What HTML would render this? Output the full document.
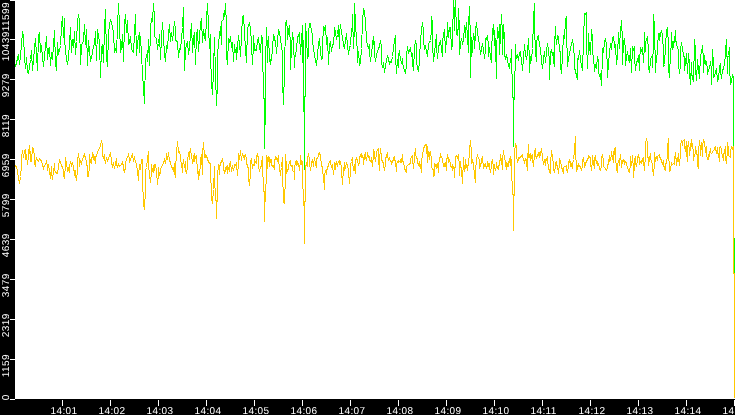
<!DOCTYPE html>
<html><head><meta charset="utf-8"><title>Chart</title><style>
html,body{margin:0;padding:0;background:#fff;overflow:hidden;}
body{width:735px;height:415px;overflow:hidden;position:relative;font-family:"Liberation Sans",sans-serif;font-size:10px;font-weight:normal;color:#fff;text-rendering:geometricPrecision;}
#l{position:absolute;left:0;top:0;width:15px;height:415px;background:#000;}
#b{position:absolute;left:0;top:399px;width:735px;height:16px;background:#000;}
.yt{position:absolute;left:10px;width:5px;height:1px;background:#fff;}
.xt{position:absolute;top:400px;width:1px;height:6px;background:#fff;}
.xl{position:absolute;top:406px;text-align:left;padding-left:0.4px;padding-top:0px;letter-spacing:0.44px;will-change:transform;line-height:12px;white-space:nowrap;}
.yl{position:absolute;left:0;width:0;height:0;}
.yl span{position:absolute;left:0;top:0;display:block;padding-left:0.75px;padding-top:0px;white-space:nowrap;letter-spacing:0.44px;will-change:transform;line-height:12px;transform-origin:0 0;transform:rotate(-90deg);}
svg{position:absolute;left:0;top:0;}

</style></head><body>
<svg width="735" height="415" viewBox="0 0 735 415">
<polyline points="14.5,60.5 15.5,66.5 18.5,54.5 19.5,64.5 21.5,45.5 22.5,31.5 23.5,36.5 24.5,57.5 25.5,68.5 26.5,57.5 27.5,72.5 28.5,73.5 30.5,59.5 31.5,50.5 32.5,70.5 33.5,60.5 34.5,47.5 35.5,38.5 37.5,70.5 38.5,35.5 39.5,33.5 40.5,52.5 41.5,45.5 42.5,57.5 43.5,66.5 44.5,55.5 45.5,47.5 46.5,36.5 47.5,59.5 48.5,48.5 49.5,47.5 50.5,65.5 51.5,52.5 52.5,59.5 53.5,45.5 54.5,30.5 55.5,62.5 56.5,70.5 57.5,42.5 58.5,54.5 60.5,45.5 61.5,26.5 62.5,16.5 63.5,37.5 64.5,18.5 64.5,40.5 66.5,59.5 67.5,64.5 68.5,57.5 69.5,42.5 70.5,27.5 71.5,52.5 72.5,39.5 73.5,47.5 74.5,31.5 75.5,54.5 76.5,41.5 77.5,21.5 78.5,14.5 79.5,21.5 80.5,64.5 81.5,45.5 83.5,40.5 84.5,24.5 85.5,44.5 86.5,29.5 87.5,65.5 88.5,40.5 89.5,50.5 90.5,61.5 92.5,52.5 93.5,45.5 94.5,44.5 95.5,31.5 96.5,60.5 97.5,29.5 98.5,35.5 99.5,42.5 100.5,77.5 101.5,47.5 102.5,44.5 103.5,62.5 104.5,29.5 105.5,9.5 106.5,57.5 107.5,66.5 108.5,34.5 109.5,24.5 110.5,19.5 112.5,26.5 113.5,32.5 114.5,52.5 115.5,49.5 116.5,52.5 117.5,27.5 118.5,3.5 119.5,25.5 120.5,52.5 121.5,47.5 122.5,34.5 123.5,61.5 124.5,23.5 125.5,14.5 126.5,32.5 127.5,20.5 128.5,44.5 129.5,42.5 130.5,36.5 131.5,49.5 133.5,52.5 134.5,33.5 135.5,14.5 136.5,55.5 137.5,42.5 139.5,32.5 139.5,52.5 140.5,36.5 142.5,73.5 144.5,103.5 145.5,59.5 147.5,52.5 147.5,61.5 148.5,39.5 149.5,65.5 150.5,27.5 151.5,18.5 152.5,21.5 153.5,3.5 154.5,18.5 154.5,36.5 156.5,38.5 157.5,49.5 158.5,43.5 159.5,34.5 160.5,59.5 161.5,37.5 162.5,22.5 163.5,37.5 164.5,54.5 165.5,61.5 166.5,45.5 167.5,48.5 168.5,34.5 169.5,24.5 170.5,41.5 171.5,32.5 172.5,40.5 173.5,31.5 174.5,21.5 175.5,29.5 175.5,40.5 177.5,41.5 178.5,57.5 179.5,48.5 180.5,49.5 182.5,27.5 183.5,7.5 184.5,70.5 185.5,49.5 186.5,44.5 187.5,41.5 188.5,54.5 189.5,47.5 190.5,35.5 191.5,23.5 192.5,52.5 193.5,38.5 194.5,32.5 195.5,64.5 196.5,34.5 197.5,29.5 198.5,51.5 199.5,37.5 200.5,23.5 201.5,18.5 202.5,42.5 203.5,29.5 204.5,36.5 205.5,40.5 206.5,18.5 207.5,3.5 208.5,26.5 209.5,48.5 210.5,34.5 210.5,54.5 211.5,83.5 212.5,94.5 213.5,70.5 214.5,37.5 215.5,74.5 216.5,105.5 217.5,82.5 217.5,54.5 218.5,43.5 220.5,26.5 221.5,44.5 221.5,21.5 223.5,19.5 223.5,13.5 224.5,16.5 225.5,3.5 226.5,26.5 226.5,55.5 227.5,64.5 228.5,38.5 229.5,41.5 230.5,36.5 231.5,47.5 232.5,42.5 233.5,61.5 234.5,44.5 235.5,52.5 236.5,47.5 236.5,59.5 237.5,46.5 238.5,35.5 239.5,43.5 240.5,56.5 241.5,36.5 242.5,16.5 243.5,15.5 244.5,32.5 245.5,49.5 246.5,62.5 247.5,28.5 248.5,25.5 249.5,23.5 250.5,27.5 251.5,44.5 252.5,64.5 253.5,44.5 253.5,35.5 254.5,50.5 254.5,50.5 256.5,49.5 256.5,50.5 257.5,40.5 258.5,38.5 259.5,47.5 260.5,52.5 261.5,36.5 262.5,38.5 262.5,44.5 263.5,98.5 264.5,98.5 264.5,148.5 264.5,124.5 265.5,124.5 265.5,65.5 266.5,27.5 267.5,62.5 267.5,44.5 268.5,36.5 269.5,59.5 270.5,64.5 271.5,54.5 271.5,60.5 272.5,47.5 273.5,34.5 274.5,37.5 275.5,44.5 275.5,40.5 276.5,53.5 277.5,41.5 278.5,29.5 279.5,32.5 280.5,39.5 281.5,45.5 282.5,54.5 282.5,81.5 283.5,104.5 284.5,70.5 285.5,24.5 286.5,20.5 287.5,31.5 287.5,39.5 288.5,31.5 289.5,25.5 290.5,47.5 290.5,69.5 291.5,47.5 292.5,32.5 293.5,41.5 294.5,67.5 294.5,57.5 295.5,55.5 296.5,48.5 297.5,37.5 298.5,35.5 299.5,32.5 300.5,54.5 301.5,40.5 302.5,25.5 302.5,62.5 303.5,40.5 303.5,111.5 304.5,111.5 304.5,169.5 304.5,96.5 305.5,96.5 305.5,23.5 306.5,37.5 307.5,57.5 308.5,55.5 308.5,32.5 309.5,23.5 310.5,23.5 311.5,31.5 312.5,34.5 312.5,42.5 313.5,47.5 314.5,55.5 315.5,59.5 316.5,65.5 317.5,54.5 318.5,44.5 319.5,38.5 320.5,52.5 321.5,59.5 322.5,58.5 322.5,44.5 323.5,27.5 324.5,29.5 325.5,25.5 326.5,44.5 327.5,37.5 328.5,64.5 329.5,44.5 330.5,42.5 331.5,51.5 332.5,45.5 333.5,43.5 334.5,31.5 334.5,27.5 335.5,32.5 336.5,39.5 337.5,34.5 338.5,25.5 339.5,48.5 339.5,34.5 340.5,24.5 341.5,33.5 342.5,36.5 343.5,45.5 344.5,48.5 345.5,40.5 346.5,33.5 347.5,45.5 348.5,54.5 349.5,47.5 350.5,45.5 351.5,29.5 352.5,26.5 352.5,14.5 353.5,48.5 354.5,26.5 354.5,3.5 355.5,23.5 356.5,39.5 357.5,52.5 357.5,62.5 358.5,51.5 359.5,64.5 360.5,62.5 361.5,48.5 362.5,21.5 363.5,9.5 364.5,11.5 365.5,21.5 366.5,39.5 367.5,45.5 368.5,47.5 369.5,44.5 369.5,52.5 370.5,61.5 371.5,53.5 372.5,44.5 373.5,36.5 374.5,52.5 374.5,40.5 374.5,54.5 375.5,61.5 376.5,54.5 378.5,48.5 379.5,46.5 380.5,40.5 381.5,47.5 381.5,62.5 382.5,67.5 383.5,62.5 384.5,72.5 385.5,65.5 386.5,60.5 387.5,55.5 388.5,59.5 389.5,63.5 390.5,61.5 391.5,62.5 392.5,56.5 393.5,48.5 394.5,40.5 395.5,35.5 395.5,55.5 396.5,73.5 397.5,59.5 398.5,67.5 398.5,55.5 399.5,50.5 400.5,60.5 400.5,57.5 401.5,63.5 402.5,58.5 402.5,62.5 403.5,67.5 404.5,70.5 405.5,73.5 406.5,65.5 406.5,56.5 407.5,46.5 408.5,52.5 409.5,50.5 410.5,47.5 411.5,55.5 412.5,53.5 412.5,62.5 413.5,70.5 414.5,47.5 415.5,40.5 416.5,46.5 416.5,60.5 417.5,68.5 418.5,70.5 419.5,62.5 419.5,57.5 420.5,40.5 421.5,29.5 422.5,22.5 423.5,30.5 423.5,41.5 424.5,48.5 425.5,46.5 426.5,50.5 427.5,56.5 428.5,43.5 429.5,42.5 430.5,40.5 431.5,30.5 431.5,16.5 432.5,23.5 432.5,44.5 433.5,61.5 434.5,52.5 435.5,43.5 436.5,34.5 436.5,47.5 437.5,58.5 438.5,47.5 439.5,43.5 440.5,41.5 441.5,48.5 442.5,56.5 442.5,40.5 443.5,35.5 444.5,29.5 445.5,52.5 446.5,37.5 447.5,35.5 447.5,22.5 448.5,37.5 449.5,27.5 450.5,27.5 451.5,49.5 452.5,44.5 452.5,21.5 453.5,16.5 453.5,-1.5 454.5,30.5 454.5,15.5 455.5,-1.5 456.5,34.5 456.5,21.5 457.5,35.5 458.5,24.5 458.5,8.5 459.5,31.5 459.5,54.5 460.5,44.5 461.5,38.5 462.5,43.5 463.5,40.5 464.5,25.5 465.5,29.5 465.5,37.5 466.5,22.5 467.5,37.5 468.5,52.5 468.5,25.5 469.5,6.5 470.5,42.5 470.5,77.5 471.5,37.5 472.5,52.5 472.5,47.5 473.5,33.5 474.5,38.5 474.5,48.5 475.5,34.5 475.5,29.5 476.5,22.5 477.5,32.5 478.5,39.5 479.5,44.5 480.5,54.5 481.5,49.5 482.5,43.5 483.5,49.5 484.5,58.5 485.5,49.5 485.5,38.5 486.5,39.5 487.5,35.5 488.5,45.5 488.5,56.5 489.5,47.5 490.5,57.5 491.5,62.5 491.5,50.5 492.5,31.5 493.5,24.5 494.5,45.5 494.5,30.5 495.5,45.5 496.5,78.5 496.5,52.5 497.5,27.5 498.5,37.5 499.5,24.5 499.5,54.5 500.5,34.5 501.5,14.5 502.5,34.5 502.5,54.5 503.5,24.5 504.5,39.5 504.5,54.5 505.5,58.5 506.5,55.5 507.5,59.5 508.5,65.5 509.5,68.5 510.5,58.5 511.5,58.5 511.5,49.5 512.5,97.5 513.5,97.5 513.5,146.5 513.5,99.5 514.5,99.5 515.5,44.5 515.5,51.5 516.5,58.5 517.5,54.5 518.5,60.5 519.5,52.5 520.5,51.5 521.5,61.5 522.5,68.5 522.5,70.5 523.5,57.5 524.5,44.5 525.5,54.5 526.5,59.5 527.5,52.5 527.5,51.5 528.5,38.5 529.5,60.5 529.5,72.5 530.5,56.5 531.5,60.5 532.5,48.5 533.5,20.5 533.5,19.5 534.5,3.5 534.5,27.5 535.5,52.5 536.5,61.5 536.5,43.5 537.5,36.5 538.5,35.5 539.5,45.5 540.5,48.5 541.5,61.5 542.5,68.5 543.5,59.5 544.5,51.5 545.5,62.5 546.5,52.5 546.5,50.5 547.5,43.5 548.5,49.5 549.5,62.5 549.5,79.5 550.5,52.5 551.5,50.5 552.5,54.5 553.5,52.5 553.5,61.5 554.5,66.5 554.5,45.5 555.5,26.5 555.5,33.5 556.5,44.5 557.5,35.5 558.5,36.5 559.5,50.5 560.5,52.5 560.5,65.5 561.5,73.5 562.5,55.5 562.5,54.5 563.5,35.5 564.5,38.5 565.5,19.5 566.5,16.5 566.5,41.5 567.5,54.5 567.5,66.5 568.5,57.5 569.5,54.5 570.5,47.5 571.5,44.5 572.5,39.5 573.5,46.5 574.5,59.5 574.5,67.5 575.5,71.5 577.5,79.5 577.5,58.5 578.5,59.5 579.5,50.5 580.5,59.5 581.5,65.5 582.5,70.5 583.5,40.5 583.5,39.5 584.5,13.5 585.5,14.5 586.5,12.5 586.5,40.5 587.5,68.5 588.5,42.5 588.5,33.5 589.5,50.5 590.5,42.5 590.5,54.5 591.5,29.5 592.5,38.5 592.5,54.5 593.5,55.5 594.5,71.5 595.5,65.5 596.5,62.5 596.5,68.5 597.5,56.5 598.5,62.5 598.5,70.5 599.5,76.5 600.5,73.5 601.5,85.5 602.5,54.5 602.5,48.5 603.5,52.5 604.5,41.5 605.5,39.5 606.5,44.5 606.5,54.5 607.5,62.5 607.5,77.5 608.5,63.5 609.5,52.5 610.5,43.5 611.5,49.5 612.5,37.5 613.5,36.5 614.5,44.5 614.5,40.5 614.5,47.5 615.5,45.5 616.5,64.5 617.5,55.5 618.5,32.5 619.5,48.5 619.5,44.5 620.5,31.5 621.5,20.5 622.5,41.5 622.5,64.5 623.5,41.5 624.5,39.5 625.5,50.5 625.5,65.5 626.5,56.5 627.5,51.5 628.5,58.5 629.5,62.5 630.5,48.5 631.5,72.5 632.5,46.5 633.5,49.5 634.5,46.5 634.5,57.5 635.5,70.5 636.5,62.5 637.5,60.5 638.5,55.5 639.5,70.5 639.5,60.5 640.5,48.5 641.5,50.5 642.5,47.5 643.5,62.5 644.5,44.5 644.5,32.5 645.5,51.5 645.5,42.5 646.5,39.5 647.5,37.5 648.5,50.5 648.5,67.5 649.5,72.5 650.5,59.5 651.5,56.5 652.5,55.5 652.5,67.5 653.5,41.5 653.5,14.5 654.5,26.5 655.5,72.5 655.5,54.5 656.5,62.5 657.5,47.5 658.5,33.5 659.5,33.5 659.5,40.5 660.5,34.5 661.5,30.5 662.5,35.5 663.5,52.5 663.5,66.5 664.5,64.5 665.5,45.5 666.5,30.5 667.5,28.5 668.5,45.5 668.5,67.5 669.5,77.5 670.5,51.5 671.5,45.5 671.5,32.5 672.5,49.5 673.5,45.5 674.5,36.5 674.5,42.5 675.5,30.5 675.5,40.5 676.5,42.5 677.5,48.5 678.5,49.5 678.5,64.5 679.5,73.5 680.5,64.5 680.5,50.5 681.5,42.5 682.5,48.5 683.5,55.5 684.5,57.5 684.5,70.5 685.5,62.5 686.5,53.5 687.5,73.5 688.5,53.5 689.5,64.5 689.5,72.5 690.5,84.5 691.5,62.5 691.5,73.5 693.5,81.5 693.5,62.5 694.5,59.5 694.5,39.5 695.5,49.5 695.5,69.5 696.5,80.5 697.5,60.5 697.5,59.5 698.5,69.5 699.5,78.5 700.5,54.5 701.5,53.5 702.5,45.5 703.5,59.5 703.5,72.5 704.5,55.5 705.5,64.5 706.5,61.5 707.5,70.5 707.5,74.5 708.5,69.5 709.5,68.5 710.5,61.5 711.5,69.5 711.5,84.5 712.5,49.5 713.5,64.5 713.5,77.5 714.5,76.5 715.5,71.5 716.5,68.5 717.5,81.5 718.5,78.5 719.5,67.5 720.5,63.5 720.5,70.5 721.5,78.5 722.5,69.5 723.5,69.5 724.5,62.5 725.5,55.5 725.5,50.5 726.5,39.5 727.5,73.5 727.5,57.5 728.5,55.5 729.5,47.5 729.5,67.5 730.5,84.5 731.5,80.5 732.5,75.5 733.5,77.5 733.5,238.5 734.5,238.5 734.5,397.5" fill="none" stroke="#00ff00" stroke-width="1" stroke-linejoin="miter" shape-rendering="crispEdges"/>
<polyline points="14.5,165.5 16.5,166.5 17.5,170.5 18.5,178.5 19.5,183.5 20.5,176.5 21.5,166.5 21.5,158.5 22.5,150.5 23.5,157.5 24.5,151.5 25.5,149.5 25.5,159.5 26.5,154.5 27.5,164.5 28.5,156.5 28.5,152.5 29.5,145.5 30.5,161.5 30.5,151.5 31.5,161.5 32.5,147.5 32.5,153.5 33.5,148.5 34.5,156.5 34.5,162.5 35.5,166.5 35.5,161.5 36.5,158.5 37.5,160.5 38.5,161.5 39.5,158.5 40.5,159.5 41.5,161.5 42.5,164.5 43.5,168.5 44.5,165.5 45.5,164.5 46.5,161.5 47.5,166.5 47.5,170.5 48.5,164.5 49.5,171.5 50.5,178.5 51.5,166.5 51.5,172.5 52.5,179.5 53.5,170.5 53.5,172.5 54.5,163.5 54.5,170.5 55.5,171.5 56.5,173.5 57.5,173.5 58.5,166.5 59.5,160.5 60.5,162.5 61.5,165.5 62.5,167.5 63.5,170.5 63.5,175.5 64.5,177.5 65.5,165.5 65.5,157.5 66.5,163.5 67.5,170.5 67.5,171.5 68.5,168.5 69.5,172.5 69.5,167.5 70.5,161.5 71.5,165.5 71.5,166.5 72.5,162.5 73.5,167.5 74.5,173.5 74.5,175.5 75.5,170.5 75.5,175.5 76.5,180.5 77.5,170.5 77.5,160.5 78.5,153.5 79.5,162.5 79.5,166.5 80.5,160.5 81.5,163.5 82.5,159.5 83.5,156.5 84.5,154.5 85.5,159.5 85.5,156.5 86.5,163.5 87.5,167.5 87.5,176.5 88.5,176.5 89.5,165.5 89.5,154.5 90.5,162.5 91.5,157.5 91.5,163.5 92.5,152.5 93.5,156.5 93.5,159.5 94.5,157.5 95.5,163.5 95.5,157.5 96.5,155.5 97.5,152.5 98.5,149.5 99.5,148.5 100.5,145.5 101.5,140.5 102.5,145.5 102.5,154.5 103.5,158.5 104.5,154.5 104.5,159.5 105.5,162.5 106.5,158.5 107.5,160.5 108.5,158.5 109.5,155.5 110.5,153.5 111.5,159.5 111.5,162.5 112.5,166.5 113.5,163.5 114.5,168.5 115.5,163.5 116.5,158.5 116.5,164.5 117.5,166.5 118.5,164.5 119.5,166.5 120.5,165.5 121.5,164.5 122.5,162.5 123.5,166.5 123.5,169.5 124.5,171.5 125.5,167.5 125.5,163.5 126.5,158.5 127.5,157.5 128.5,154.5 129.5,159.5 129.5,162.5 130.5,159.5 131.5,156.5 131.5,157.5 132.5,153.5 133.5,161.5 134.5,156.5 134.5,157.5 134.5,159.5 135.5,160.5 136.5,165.5 137.5,170.5 138.5,180.5 138.5,175.5 139.5,164.5 140.5,169.5 141.5,159.5 142.5,159.5 142.5,179.5 143.5,203.5 144.5,209.5 145.5,188.5 145.5,170.5 146.5,167.5 147.5,159.5 148.5,151.5 148.5,164.5 149.5,174.5 150.5,182.5 151.5,172.5 151.5,164.5 152.5,171.5 153.5,165.5 153.5,172.5 154.5,168.5 154.5,164.5 155.5,164.5 156.5,171.5 157.5,184.5 158.5,174.5 158.5,167.5 159.5,175.5 160.5,172.5 160.5,169.5 161.5,166.5 162.5,165.5 163.5,162.5 164.5,159.5 165.5,163.5 166.5,156.5 166.5,153.5 167.5,159.5 168.5,152.5 168.5,153.5 169.5,159.5 170.5,163.5 171.5,166.5 172.5,168.5 173.5,170.5 174.5,163.5 174.5,171.5 175.5,177.5 175.5,169.5 176.5,153.5 177.5,141.5 178.5,152.5 178.5,148.5 179.5,153.5 180.5,154.5 180.5,159.5 181.5,163.5 182.5,172.5 182.5,166.5 183.5,159.5 184.5,167.5 185.5,161.5 185.5,170.5 186.5,173.5 187.5,166.5 187.5,161.5 188.5,152.5 189.5,159.5 189.5,153.5 190.5,148.5 191.5,157.5 191.5,153.5 192.5,163.5 193.5,159.5 193.5,157.5 194.5,153.5 194.5,161.5 195.5,156.5 196.5,155.5 196.5,159.5 197.5,167.5 198.5,179.5 198.5,171.5 199.5,175.5 200.5,162.5 200.5,159.5 201.5,154.5 202.5,174.5 202.5,154.5 203.5,142.5 204.5,157.5 204.5,150.5 205.5,157.5 205.5,156.5 206.5,155.5 207.5,159.5 208.5,161.5 209.5,163.5 210.5,163.5 210.5,167.5 211.5,197.5 212.5,203.5 213.5,189.5 214.5,166.5 214.5,175.5 215.5,200.5 216.5,200.5 216.5,218.5 216.5,201.5 217.5,201.5 217.5,175.5 218.5,164.5 219.5,174.5 219.5,167.5 220.5,163.5 221.5,161.5 222.5,159.5 223.5,164.5 223.5,167.5 224.5,173.5 225.5,167.5 225.5,171.5 226.5,166.5 227.5,173.5 227.5,165.5 228.5,168.5 229.5,171.5 229.5,164.5 230.5,162.5 231.5,171.5 232.5,166.5 233.5,169.5 234.5,166.5 234.5,164.5 235.5,165.5 236.5,163.5 237.5,175.5 238.5,162.5 238.5,153.5 239.5,159.5 240.5,150.5 241.5,160.5 241.5,157.5 242.5,154.5 243.5,156.5 244.5,159.5 244.5,155.5 245.5,154.5 246.5,159.5 246.5,162.5 247.5,166.5 248.5,168.5 248.5,177.5 249.5,185.5 250.5,173.5 250.5,161.5 251.5,159.5 252.5,168.5 252.5,166.5 253.5,164.5 254.5,163.5 254.5,165.5 254.5,159.5 255.5,162.5 256.5,163.5 256.5,156.5 257.5,153.5 258.5,159.5 258.5,166.5 259.5,171.5 260.5,166.5 260.5,168.5 261.5,164.5 262.5,156.5 262.5,162.5 263.5,191.5 264.5,191.5 264.5,221.5 264.5,201.5 265.5,201.5 266.5,167.5 266.5,155.5 267.5,168.5 267.5,157.5 268.5,156.5 269.5,166.5 269.5,157.5 270.5,161.5 271.5,159.5 271.5,164.5 272.5,166.5 273.5,165.5 273.5,166.5 274.5,169.5 274.5,161.5 275.5,157.5 276.5,159.5 276.5,157.5 277.5,160.5 278.5,155.5 278.5,159.5 279.5,167.5 280.5,175.5 280.5,172.5 281.5,167.5 282.5,157.5 282.5,172.5 283.5,201.5 284.5,203.5 285.5,175.5 285.5,154.5 286.5,167.5 286.5,173.5 287.5,170.5 288.5,168.5 288.5,165.5 289.5,162.5 290.5,160.5 290.5,164.5 291.5,166.5 292.5,165.5 292.5,170.5 293.5,171.5 294.5,172.5 294.5,179.5 294.5,167.5 295.5,162.5 296.5,160.5 296.5,165.5 297.5,162.5 298.5,166.5 298.5,163.5 299.5,170.5 300.5,159.5 300.5,155.5 301.5,163.5 302.5,161.5 302.5,170.5 303.5,205.5 304.5,205.5 304.5,243.5 304.5,201.5 305.5,201.5 305.5,167.5 306.5,163.5 307.5,166.5 307.5,157.5 308.5,154.5 309.5,159.5 309.5,162.5 310.5,170.5 311.5,164.5 311.5,162.5 312.5,159.5 313.5,166.5 313.5,162.5 314.5,159.5 314.5,157.5 315.5,163.5 316.5,167.5 316.5,159.5 317.5,157.5 318.5,156.5 318.5,153.5 319.5,152.5 320.5,156.5 320.5,159.5 321.5,162.5 322.5,170.5 322.5,171.5 323.5,175.5 324.5,189.5 324.5,174.5 325.5,171.5 326.5,174.5 326.5,171.5 327.5,167.5 328.5,165.5 328.5,163.5 329.5,162.5 330.5,160.5 330.5,163.5 331.5,166.5 332.5,168.5 332.5,164.5 333.5,174.5 334.5,166.5 334.5,162.5 335.5,169.5 335.5,164.5 336.5,162.5 337.5,166.5 337.5,163.5 338.5,162.5 339.5,160.5 339.5,164.5 340.5,162.5 341.5,167.5 341.5,171.5 342.5,184.5 343.5,168.5 343.5,172.5 344.5,162.5 344.5,170.5 345.5,166.5 346.5,163.5 346.5,162.5 347.5,165.5 348.5,170.5 348.5,172.5 349.5,183.5 350.5,170.5 350.5,164.5 351.5,161.5 352.5,157.5 352.5,161.5 353.5,170.5 354.5,164.5 354.5,167.5 355.5,173.5 355.5,161.5 356.5,157.5 357.5,161.5 357.5,159.5 358.5,165.5 359.5,162.5 359.5,157.5 360.5,155.5 361.5,157.5 361.5,153.5 362.5,157.5 363.5,157.5 363.5,164.5 364.5,156.5 365.5,152.5 365.5,157.5 366.5,159.5 367.5,154.5 367.5,152.5 368.5,157.5 369.5,156.5 369.5,159.5 370.5,161.5 371.5,162.5 371.5,157.5 372.5,166.5 373.5,154.5 373.5,149.5 374.5,153.5 374.5,156.5 374.5,156.5 375.5,161.5 376.5,153.5 376.5,151.5 377.5,150.5 378.5,148.5 378.5,159.5 379.5,170.5 379.5,159.5 380.5,148.5 381.5,157.5 381.5,159.5 382.5,161.5 383.5,163.5 383.5,165.5 384.5,170.5 385.5,164.5 385.5,159.5 386.5,155.5 387.5,152.5 387.5,156.5 388.5,159.5 389.5,157.5 389.5,159.5 390.5,160.5 391.5,162.5 391.5,164.5 392.5,161.5 393.5,159.5 393.5,157.5 394.5,156.5 394.5,159.5 395.5,161.5 396.5,171.5 396.5,164.5 397.5,161.5 398.5,160.5 398.5,162.5 399.5,161.5 400.5,162.5 400.5,159.5 401.5,162.5 402.5,154.5 402.5,159.5 403.5,163.5 404.5,166.5 404.5,168.5 405.5,170.5 406.5,172.5 406.5,166.5 407.5,165.5 408.5,164.5 408.5,164.5 409.5,164.5 410.5,162.5 410.5,159.5 411.5,156.5 412.5,155.5 412.5,159.5 413.5,168.5 414.5,157.5 414.5,155.5 415.5,148.5 415.5,154.5 416.5,157.5 417.5,159.5 417.5,162.5 418.5,164.5 419.5,166.5 419.5,161.5 420.5,165.5 421.5,172.5 421.5,163.5 422.5,152.5 423.5,151.5 423.5,148.5 424.5,146.5 425.5,144.5 425.5,144.5 426.5,144.5 427.5,162.5 427.5,146.5 428.5,154.5 429.5,159.5 429.5,152.5 430.5,151.5 431.5,159.5 431.5,167.5 432.5,168.5 433.5,170.5 433.5,176.5 434.5,174.5 434.5,163.5 435.5,164.5 436.5,168.5 436.5,164.5 437.5,163.5 438.5,172.5 438.5,163.5 439.5,160.5 440.5,153.5 440.5,157.5 441.5,156.5 442.5,159.5 442.5,160.5 443.5,165.5 444.5,163.5 444.5,166.5 445.5,162.5 446.5,170.5 446.5,161.5 447.5,154.5 448.5,162.5 448.5,157.5 449.5,161.5 450.5,162.5 450.5,166.5 451.5,167.5 452.5,164.5 452.5,170.5 453.5,166.5 454.5,167.5 454.5,177.5 455.5,159.5 455.5,156.5 456.5,155.5 457.5,158.5 457.5,157.5 458.5,154.5 459.5,167.5 459.5,175.5 460.5,161.5 461.5,171.5 461.5,170.5 462.5,183.5 463.5,157.5 463.5,166.5 464.5,171.5 465.5,159.5 465.5,168.5 466.5,164.5 467.5,170.5 467.5,166.5 468.5,164.5 469.5,151.5 469.5,150.5 470.5,140.5 471.5,153.5 471.5,163.5 472.5,160.5 473.5,164.5 473.5,168.5 474.5,171.5 474.5,175.5 475.5,182.5 475.5,170.5 476.5,159.5 477.5,154.5 477.5,156.5 478.5,157.5 479.5,160.5 479.5,168.5 480.5,164.5 481.5,162.5 481.5,159.5 482.5,157.5 483.5,168.5 483.5,163.5 484.5,165.5 485.5,163.5 485.5,164.5 486.5,168.5 487.5,164.5 487.5,161.5 488.5,165.5 489.5,163.5 489.5,168.5 490.5,171.5 491.5,166.5 491.5,162.5 492.5,159.5 493.5,167.5 493.5,174.5 494.5,164.5 494.5,163.5 494.5,166.5 495.5,169.5 496.5,166.5 496.5,162.5 497.5,168.5 498.5,165.5 498.5,169.5 499.5,162.5 500.5,158.5 500.5,154.5 501.5,160.5 502.5,169.5 502.5,159.5 503.5,150.5 504.5,159.5 504.5,156.5 505.5,163.5 506.5,169.5 506.5,162.5 507.5,165.5 508.5,161.5 508.5,166.5 509.5,159.5 510.5,156.5 510.5,165.5 511.5,159.5 511.5,166.5 512.5,194.5 513.5,194.5 513.5,230.5 513.5,195.5 514.5,195.5 514.5,152.5 515.5,143.5 516.5,146.5 516.5,154.5 517.5,162.5 518.5,159.5 518.5,157.5 519.5,158.5 520.5,156.5 520.5,157.5 521.5,155.5 522.5,154.5 522.5,156.5 523.5,159.5 524.5,161.5 524.5,163.5 525.5,158.5 526.5,159.5 526.5,162.5 527.5,170.5 527.5,161.5 528.5,144.5 528.5,157.5 529.5,154.5 530.5,160.5 530.5,153.5 531.5,157.5 532.5,154.5 532.5,159.5 533.5,166.5 534.5,154.5 534.5,152.5 535.5,148.5 535.5,154.5 536.5,158.5 537.5,154.5 537.5,156.5 538.5,153.5 539.5,157.5 539.5,152.5 540.5,154.5 541.5,148.5 542.5,156.5 542.5,157.5 543.5,163.5 544.5,161.5 544.5,159.5 545.5,165.5 545.5,159.5 546.5,160.5 547.5,156.5 547.5,160.5 548.5,167.5 549.5,171.5 550.5,173.5 550.5,162.5 551.5,151.5 551.5,150.5 552.5,156.5 553.5,164.5 553.5,169.5 554.5,172.5 555.5,165.5 555.5,162.5 556.5,161.5 557.5,169.5 557.5,165.5 558.5,173.5 559.5,162.5 559.5,158.5 560.5,162.5 561.5,165.5 561.5,166.5 562.5,170.5 563.5,173.5 563.5,167.5 564.5,166.5 564.5,166.5 565.5,166.5 566.5,165.5 566.5,169.5 567.5,172.5 568.5,166.5 568.5,162.5 569.5,159.5 570.5,166.5 570.5,161.5 571.5,165.5 572.5,168.5 572.5,164.5 573.5,159.5 574.5,150.5 574.5,149.5 575.5,136.5 575.5,154.5 576.5,165.5 576.5,171.5 577.5,167.5 578.5,163.5 578.5,166.5 579.5,165.5 580.5,167.5 580.5,166.5 581.5,170.5 582.5,165.5 582.5,161.5 583.5,157.5 584.5,165.5 584.5,167.5 585.5,163.5 586.5,160.5 586.5,162.5 587.5,159.5 588.5,157.5 588.5,155.5 589.5,157.5 590.5,157.5 590.5,163.5 591.5,170.5 592.5,159.5 592.5,155.5 593.5,163.5 594.5,168.5 594.5,159.5 595.5,155.5 595.5,159.5 596.5,161.5 597.5,165.5 597.5,161.5 598.5,165.5 599.5,166.5 599.5,169.5 600.5,170.5 601.5,165.5 601.5,158.5 602.5,154.5 603.5,161.5 603.5,166.5 604.5,167.5 605.5,168.5 605.5,169.5 606.5,170.5 607.5,167.5 607.5,166.5 608.5,162.5 609.5,155.5 609.5,161.5 610.5,159.5 611.5,154.5 611.5,151.5 612.5,157.5 613.5,162.5 613.5,154.5 614.5,148.5 614.5,154.5 614.5,154.5 615.5,147.5 615.5,157.5 616.5,168.5 617.5,172.5 617.5,166.5 618.5,160.5 619.5,165.5 619.5,161.5 620.5,154.5 621.5,165.5 621.5,167.5 622.5,160.5 622.5,163.5 623.5,159.5 624.5,164.5 624.5,160.5 625.5,161.5 626.5,163.5 626.5,164.5 627.5,167.5 628.5,170.5 628.5,171.5 629.5,172.5 630.5,164.5 630.5,156.5 631.5,165.5 632.5,160.5 632.5,155.5 633.5,170.5 633.5,177.5 634.5,165.5 634.5,160.5 635.5,156.5 635.5,162.5 636.5,166.5 637.5,160.5 637.5,157.5 638.5,154.5 639.5,160.5 639.5,164.5 640.5,161.5 641.5,160.5 641.5,163.5 642.5,159.5 643.5,157.5 643.5,160.5 644.5,170.5 645.5,154.5 645.5,143.5 646.5,138.5 647.5,143.5 647.5,154.5 648.5,160.5 648.5,165.5 649.5,158.5 650.5,153.5 650.5,158.5 651.5,161.5 652.5,164.5 652.5,168.5 653.5,175.5 654.5,162.5 654.5,152.5 655.5,160.5 655.5,161.5 656.5,156.5 657.5,160.5 657.5,156.5 658.5,155.5 659.5,154.5 659.5,156.5 660.5,158.5 661.5,160.5 661.5,161.5 662.5,163.5 663.5,160.5 663.5,164.5 664.5,168.5 665.5,170.5 665.5,165.5 666.5,161.5 667.5,156.5 667.5,148.5 668.5,138.5 668.5,153.5 669.5,168.5 669.5,171.5 670.5,169.5 671.5,162.5 671.5,165.5 672.5,164.5 673.5,163.5 673.5,163.5 674.5,164.5 674.5,159.5 675.5,152.5 676.5,165.5 676.5,158.5 677.5,160.5 678.5,153.5 678.5,158.5 679.5,165.5 680.5,152.5 680.5,146.5 681.5,140.5 682.5,145.5 682.5,141.5 683.5,140.5 684.5,139.5 684.5,145.5 685.5,151.5 686.5,141.5 686.5,151.5 687.5,161.5 687.5,149.5 688.5,141.5 689.5,151.5 689.5,155.5 690.5,147.5 691.5,139.5 691.5,146.5 692.5,144.5 693.5,153.5 693.5,160.5 694.5,154.5 695.5,153.5 695.5,146.5 696.5,153.5 697.5,155.5 697.5,164.5 698.5,168.5 698.5,151.5 699.5,140.5 700.5,149.5 700.5,155.5 701.5,142.5 702.5,156.5 702.5,146.5 703.5,139.5 704.5,146.5 704.5,141.5 705.5,152.5 706.5,146.5 706.5,154.5 707.5,159.5 708.5,154.5 708.5,159.5 709.5,154.5 710.5,148.5 710.5,152.5 711.5,153.5 712.5,152.5 712.5,151.5 713.5,150.5 714.5,149.5 714.5,147.5 715.5,146.5 715.5,149.5 716.5,152.5 717.5,147.5 717.5,152.5 718.5,154.5 719.5,161.5 719.5,147.5 720.5,146.5 721.5,149.5 721.5,152.5 722.5,155.5 723.5,160.5 723.5,154.5 724.5,152.5 725.5,146.5 725.5,157.5 726.5,163.5 727.5,149.5 727.5,142.5 728.5,149.5 728.5,155.5 729.5,156.5 730.5,157.5 730.5,152.5 731.5,146.5 732.5,149.5 732.5,147.5 733.5,146.5 733.5,273.5 734.5,273.5 734.5,397.5" fill="none" stroke="#ffc800" stroke-width="1" stroke-linejoin="miter" shape-rendering="crispEdges"/>
</svg>
<div id="l"></div><div id="b"></div>
<div class="yt" style="top:0px"></div>
<div class="yt" style="top:399px"></div>
<div class="yl" style="top:401px;left:1px"><span>0</span></div>
<div class="yt" style="top:359px"></div>
<div class="yl" style="top:378px;left:1px"><span>1159</span></div>
<div class="yt" style="top:319px"></div>
<div class="yl" style="top:338px;left:1px"><span>2319</span></div>
<div class="yt" style="top:279px"></div>
<div class="yl" style="top:298px;left:1px"><span>3479</span></div>
<div class="yt" style="top:239px"></div>
<div class="yl" style="top:258px;left:1px"><span>4639</span></div>
<div class="yt" style="top:199px"></div>
<div class="yl" style="top:218px;left:1px"><span>5799</span></div>
<div class="yt" style="top:159px"></div>
<div class="yl" style="top:178px;left:1px"><span>6959</span></div>
<div class="yt" style="top:119px"></div>
<div class="yl" style="top:138px;left:1px"><span>8119</span></div>
<div class="yt" style="top:79px"></div>
<div class="yl" style="top:98px;left:1px"><span>9279</span></div>
<div class="yt" style="top:39px"></div>
<div class="yl" style="top:62px;left:1px"><span style="padding-left:0.75px">10439</span></div>
<div class="yl" style="top:32px;left:1px"><span style="padding-left:0.75px">11599</span></div>
<div class="xt" style="left:62px"></div>
<div class="xl" style="left:50px">14:01</div>
<div class="xt" style="left:110px"></div>
<div class="xl" style="left:98px">14:02</div>
<div class="xt" style="left:158px"></div>
<div class="xl" style="left:146px">14:03</div>
<div class="xt" style="left:206px"></div>
<div class="xl" style="left:194px">14:04</div>
<div class="xt" style="left:254px"></div>
<div class="xl" style="left:242px">14:05</div>
<div class="xt" style="left:302px"></div>
<div class="xl" style="left:290px">14:06</div>
<div class="xt" style="left:350px"></div>
<div class="xl" style="left:338px">14:07</div>
<div class="xt" style="left:398px"></div>
<div class="xl" style="left:386px">14:08</div>
<div class="xt" style="left:446px"></div>
<div class="xl" style="left:434px">14:09</div>
<div class="xt" style="left:494px"></div>
<div class="xl" style="left:482px">14:10</div>
<div class="xt" style="left:542px"></div>
<div class="xl" style="left:530px">14:11</div>
<div class="xt" style="left:590px"></div>
<div class="xl" style="left:578px">14:12</div>
<div class="xt" style="left:638px"></div>
<div class="xl" style="left:626px">14:13</div>
<div class="xt" style="left:686px"></div>
<div class="xl" style="left:674px">14:14</div>
<div class="xt" style="left:734px"></div>
<div class="xl" style="left:722px">14:15</div>
</body></html>
